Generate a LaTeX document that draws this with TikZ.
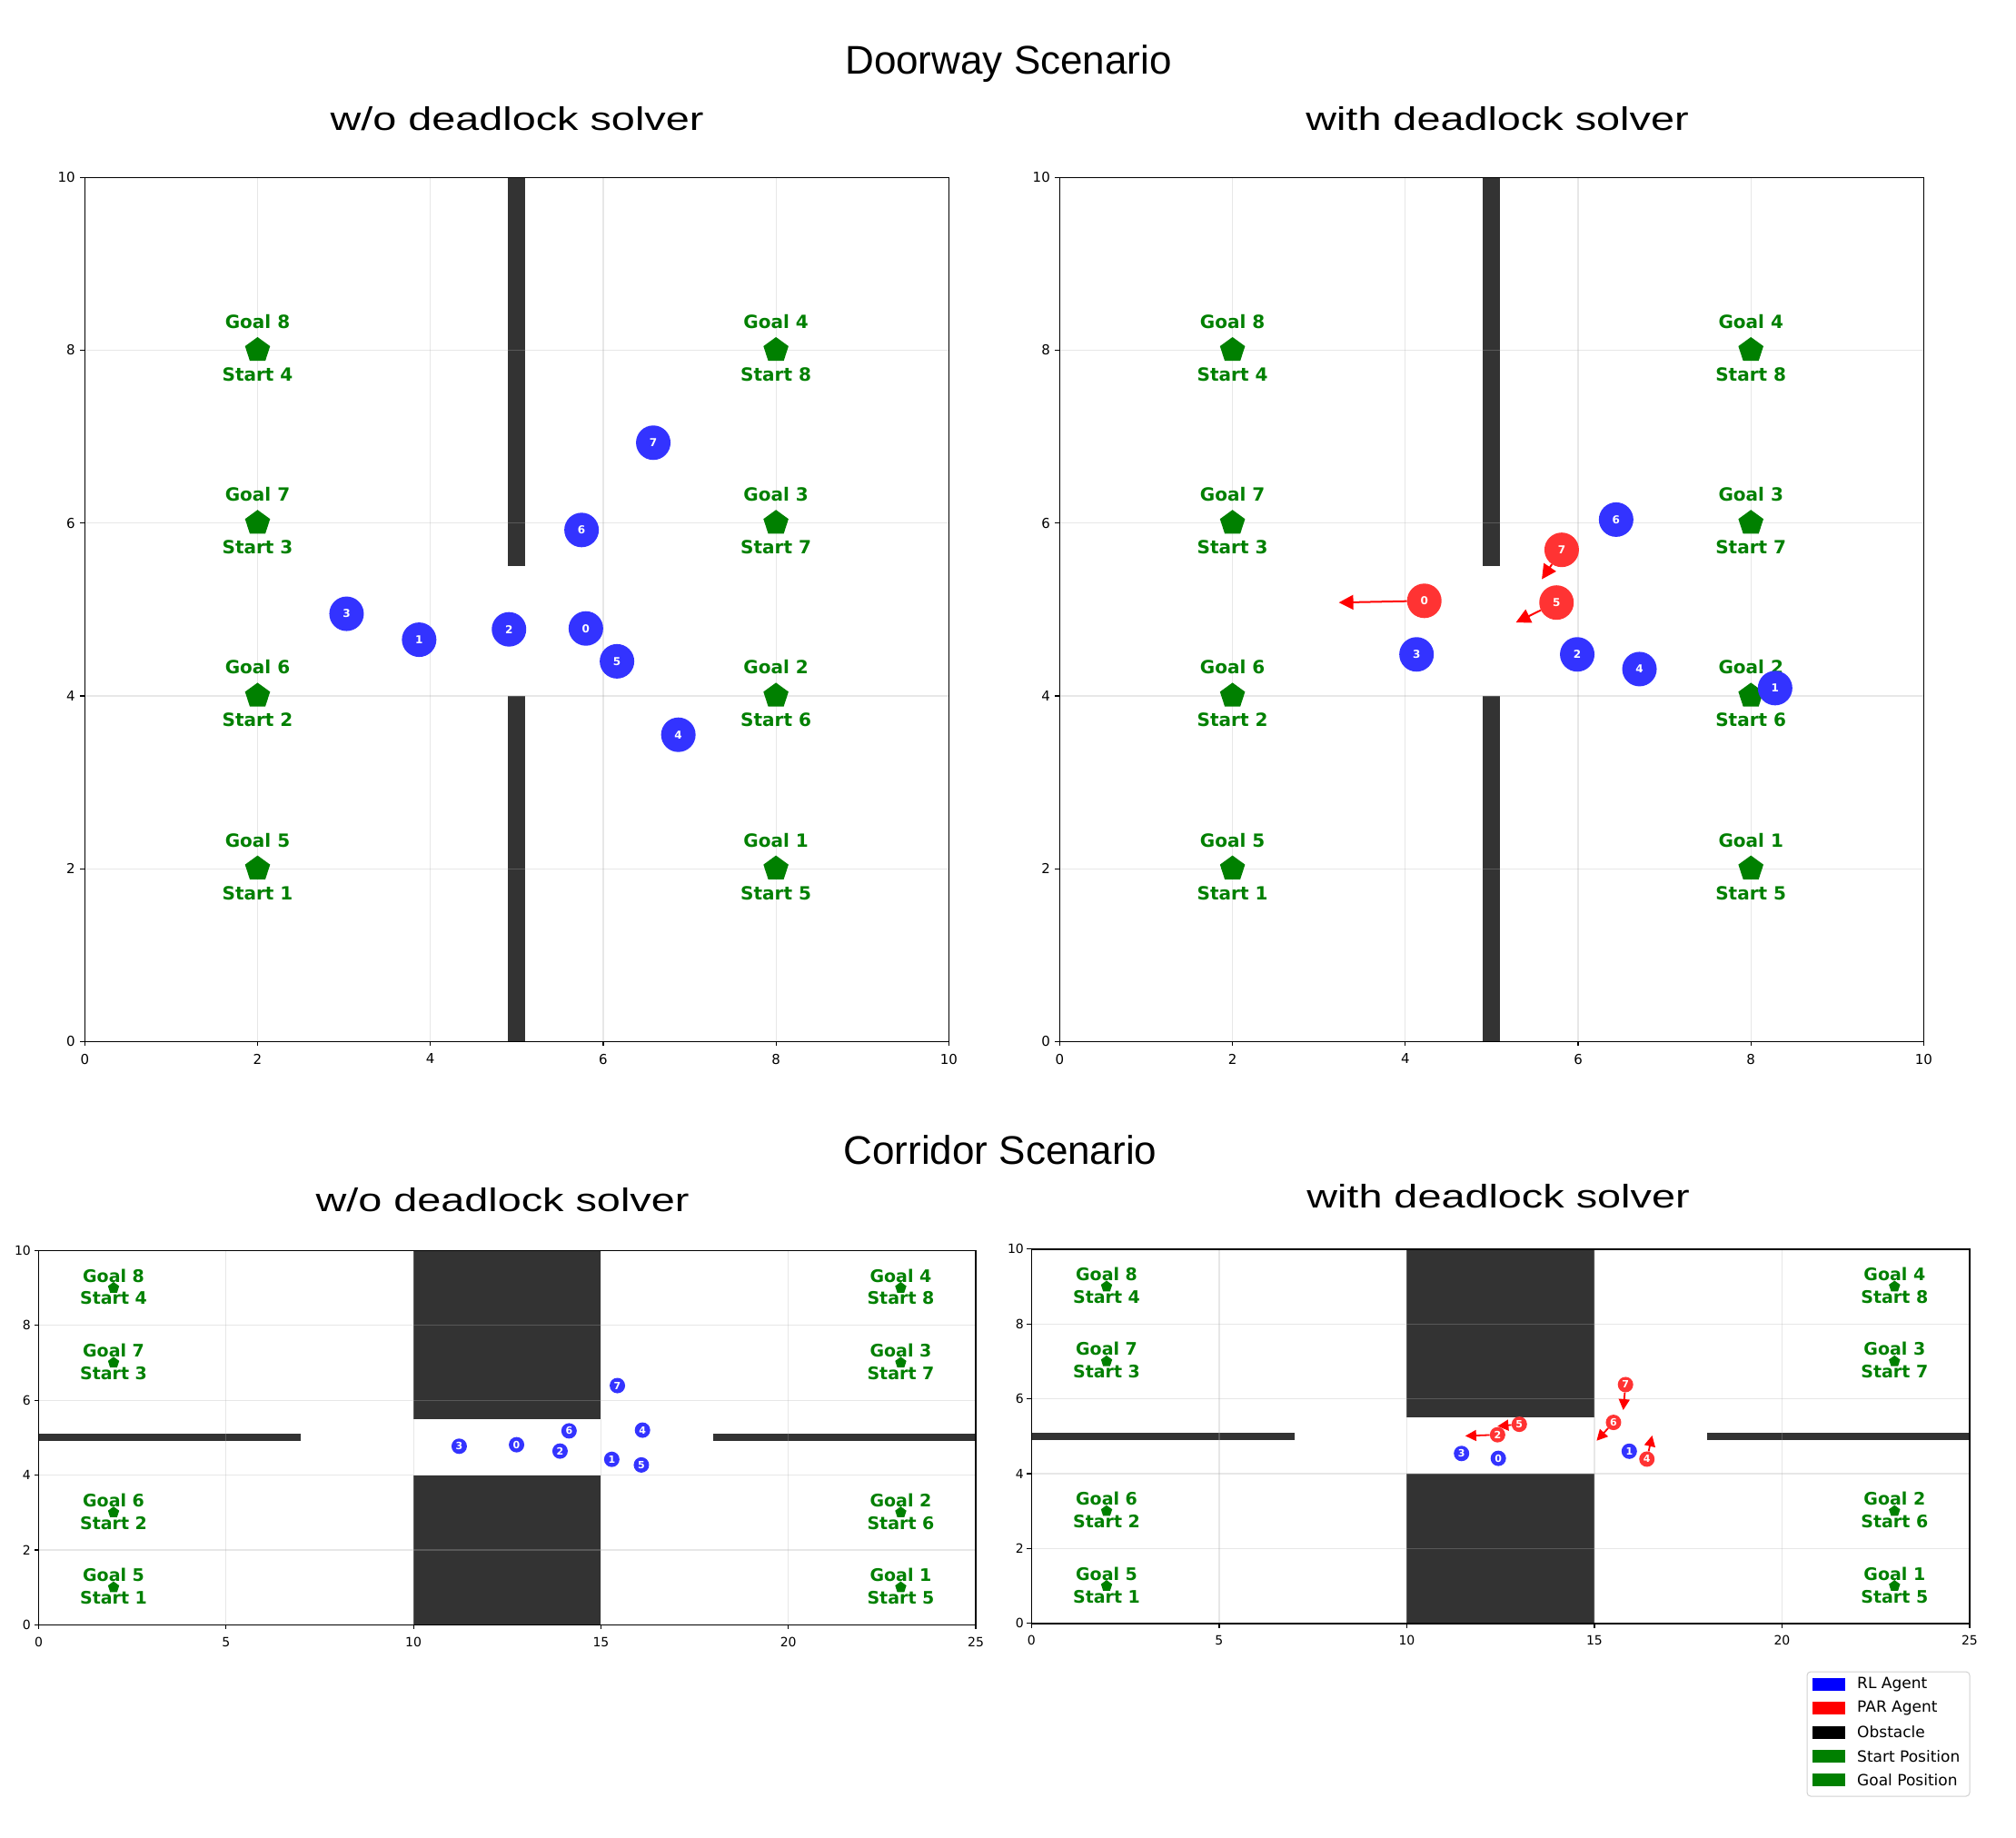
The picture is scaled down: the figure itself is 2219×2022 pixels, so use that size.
\documentclass[tikz,border=0pt]{standalone}
\usepackage{fontspec}
\setmainfont{Liberation Sans}
\newfontfamily\plotfont{DejaVu Sans}
\usetikzlibrary{shapes.geometric,arrows.meta}

\definecolor{goalgreen}{HTML}{008000}
\definecolor{rlblue}{HTML}{3333FF}
\definecolor{parred}{HTML}{FF3333}
\definecolor{wallgray}{HTML}{333333}
\definecolor{gridgray}{HTML}{B0B0B0}

% doorway map, #1 = prefix of the node names
\newcommand{\doorwaymap}[1]{%
  \fill[wall] (4.9,5.5) rectangle (5.1,10);
  \fill[wall] (4.9,0) rectangle (5.1,4);
  \foreach \v in {2,4,6,8} {
    \draw[gridline] (\v,0) -- (\v,10);
    \draw[gridline] (0,\v) -- (10,\v);
  }
  \draw[frame] (0,0) rectangle (10,10);
  \foreach \v in {0,2,...,10} {
    \draw[tickmark] (\v,0) -- ++(0,-5pt) node[ticklabel, anchor=north, yshift=-8pt, name=#1x\v] {\v};
    \draw[tickmark] (0,\v) -- ++(-5pt,0) node[ticklabel, anchor=east, xshift=-5pt, name=#1y\v] {\v};
  }
  \foreach \x/\y/\g/\s in {2/8/8/4, 2/6/7/3, 2/4/6/2, 2/2/5/1, 8/8/4/8, 8/6/3/7, 8/4/2/6, 8/2/1/5} {
    \node[goallabel] (#1g\g) at (\x,\y+0.33) {Goal \g};
    \node[goallabel] (#1s\s) at (\x,\y-0.28) {Start \s};
    \node[goalmark] (#1m\g) at (\x,\y) {};
  }
}

% corridor map, #1 = prefix of the node names
\newcommand{\corridormap}[1]{%
  \fill[wall] (0,4.9) rectangle (7,5.1);
  \fill[wall] (18,4.9) rectangle (25,5.1);
  \fill[wall] (10,5.5) rectangle (15,10);
  \fill[wall] (10,0) rectangle (15,4);
  \foreach \v in {5,10,15,20} \draw[gridline] (\v,0) -- (\v,10);
  \foreach \v in {2,4,6,8} \draw[gridline] (0,\v) -- (25,\v);
  \draw[frame] (0,0) rectangle (25,10);
  \foreach \v in {0,5,...,25}
    \draw[tickmark] (\v,0) -- ++(0,-5pt) node[ticklabel, small tick, anchor=north, yshift=-8pt, name=#1x\v] {\v};
  \foreach \v in {0,2,...,10}
    \draw[tickmark] (0,\v) -- ++(-5pt,0) node[ticklabel, small tick, anchor=east, xshift=-3pt, name=#1y\v] {\v};
  \foreach \x/\y/\g/\s in {2/9/8/4, 2/7/7/3, 2/3/6/2, 2/1/5/1, 23/9/4/8, 23/7/3/7, 23/3/2/6, 23/1/1/5} {
    \node[goallabel, small label] (#1g\g) at (\x,\y+0.33) {Goal \g};
    \node[goallabel, small label] (#1s\s) at (\x,\y-0.28) {Start \s};
    \node[goalmark, minimum size=13pt] (#1m\g) at (\x,\y) {};
  }
}

\begin{document}
\begin{tikzpicture}[x=1pt, y=-1pt]
\tikzset{
  maintitle/.style={anchor=base, inner sep=0pt, font=\fontsize{44}{44}\selectfont},
  subtitle/.style={anchor=base, inner sep=0pt, font=\fontsize{36}{36}\selectfont},
  wall/.style={fill=wallgray},
  gridline/.style={draw=gridgray, opacity=0.3, line width=1.2pt},
  frame/.style={draw=black, line width=1.5pt},
  tickmark/.style={draw=black, line width=1.2pt},
  ticklabel/.style={inner sep=0pt, font=\plotfont\fontsize{15}{15}\selectfont},
  small tick/.style={font=\plotfont\fontsize{14}{14}\selectfont},
  goallabel/.style={inner sep=0pt, text=goalgreen, font=\plotfont\bfseries\fontsize{20}{20}\selectfont},
  small label/.style={font=\plotfont\bfseries\fontsize{19}{19}\selectfont},
  goalmark/.style={regular polygon, regular polygon sides=5, fill=goalgreen, inner sep=0pt, minimum size=29pt},
  agent/.style={circle, inner sep=0pt, minimum size=38pt, text=white, font=\plotfont\bfseries\fontsize{12}{12}\selectfont},
  rl agent/.style={agent, fill=rlblue},
  par agent/.style={agent, fill=parred},
  corridor size/.style={minimum size=17pt, font=\plotfont\bfseries\fontsize{11}{11}\selectfont},
  move/.style={draw=red, line width=2pt, -{Triangle[length=16pt,width=16pt]}},
  small move/.style={draw=red, line width=1.8pt, -{Triangle[length=12pt,width=12pt]}},
  legendbox/.style={draw=black!18, fill=white, line width=1pt, rounded corners=4pt},
  legendpatch/.style={minimum width=36pt, minimum height=14pt, inner sep=0pt},
  legendtext/.style={anchor=west, inner sep=0pt, font=\plotfont\fontsize{17}{17}\selectfont}
}
\useasboundingbox (0,0) rectangle (2219,2022);
\fill[white] (0,0) rectangle (2219,2022);

% titles
\node[maintitle] (doorway) at (1110,81.7) {Doorway Scenario};
\node[subtitle] (dltitle) at (569,143.3) {\scalebox{1.3}[1]{w/o deadlock solver}};
\node[subtitle] (drtitle) at (1648,143) {\scalebox{1.3}[1]{with deadlock solver}};
\node[maintitle] (corridor) at (1101,1281) {Corridor Scenario};
\node[subtitle] (cltitle) at (553,1333) {\scalebox{1.3}[1]{w/o deadlock solver}};
\node[subtitle] (crtitle) at (1649,1329) {\scalebox{1.3}[1]{with deadlock solver}};

% doorway, w/o deadlock solver
\begin{scope}[shift={(93.3,1146.3)}, x=95.1pt, y=95.1pt]
\doorwaymap{dl}
\node[rl agent] (dl0) at (5.80,4.78) {0};
\node[rl agent] (dl1) at (3.87,4.65) {1};
\node[rl agent] (dl2) at (4.91,4.77) {2};
\node[rl agent] (dl3) at (3.03,4.95) {3};
\node[rl agent] (dl4) at (6.87,3.55) {4};
\node[rl agent] (dl5) at (6.16,4.40) {5};
\node[rl agent] (dl6) at (5.75,5.92) {6};
\node[rl agent] (dl7) at (6.58,6.93) {7};
\end{scope}

% doorway, with deadlock solver
\begin{scope}[shift={(1166.4,1146.3)}, x=95.1pt, y=95.1pt]
\doorwaymap{dr}
\node[par agent] (dr0) at (4.22,5.10) {0};
\node[rl agent] (dr1) at (8.28,4.09) {1};
\node[rl agent] (dr2) at (5.99,4.48) {2};
\node[rl agent] (dr3) at (4.13,4.48) {3};
\node[rl agent] (dr4) at (6.71,4.31) {4};
\node[par agent] (dr5) at (5.75,5.08) {5};
\node[rl agent] (dr6) at (6.44,6.04) {6};
\node[par agent] (dr7) at (5.81,5.69) {7};
\coordinate (dr0tip) at (3.23,5.08);
\coordinate (dr5tip) at (5.28,4.85);
\coordinate (dr7tip) at (5.58,5.35);
\draw[move] (dr0) -- (dr0tip);
\draw[move] (dr5) -- (dr5tip);
\draw[move] (dr7) -- (dr7tip);
\end{scope}

% corridor, w/o deadlock solver
\begin{scope}[shift={(42.5,1788.3)}, x=41.26pt, y=41.2pt]
\corridormap{cl}
\node[rl agent, corridor size] (cl0) at (12.75,4.81) {0};
\node[rl agent, corridor size] (cl1) at (15.29,4.42) {1};
\node[rl agent, corridor size] (cl2) at (13.91,4.64) {2};
\node[rl agent, corridor size] (cl3) at (11.22,4.77) {3};
\node[rl agent, corridor size] (cl4) at (16.11,5.20) {4};
\node[rl agent, corridor size] (cl5) at (16.08,4.27) {5};
\node[rl agent, corridor size] (cl6) at (14.15,5.18) {6};
\node[rl agent, corridor size] (cl7) at (15.44,6.39) {7};
\end{scope}

% corridor, with deadlock solver
\begin{scope}[shift={(1135.4,1786.8)}, x=41.3pt, y=41.2pt]
\corridormap{cr}
\node[rl agent, corridor size] (cr0) at (12.44,4.41) {0};
\node[rl agent, corridor size] (cr1) at (15.93,4.60) {1};
\node[par agent, corridor size] (cr2) at (12.42,5.04) {2};
\node[rl agent, corridor size] (cr3) at (11.46,4.54) {3};
\node[par agent, corridor size] (cr4) at (16.40,4.39) {4};
\node[par agent, corridor size] (cr5) at (13.00,5.32) {5};
\node[par agent, corridor size] (cr6) at (15.51,5.37) {6};
\node[par agent, corridor size] (cr7) at (15.83,6.38) {7};
\coordinate (cr2tip) at (11.56,5.01);
\coordinate (cr4tip) at (16.54,5.02);
\coordinate (cr5tip) at (12.42,5.27);
\coordinate (cr6tip) at (15.06,4.88);
\coordinate (cr7tip) at (15.77,5.70);
\draw[small move] (cr2) -- (cr2tip);
\draw[small move] (cr4) -- (cr4tip);
\draw[small move] (cr5) -- (cr5tip);
\draw[small move] (cr6) -- (cr6tip);
\draw[small move] (cr7) -- (cr7tip);
\end{scope}

% legend
\draw[legendbox] (1989,1840) rectangle (2168,1977);
\node[legendpatch, fill=blue] (prl) at (2013,1853.7) {};
\node[legendpatch, fill=red] (ppar) at (2013,1880) {};
\node[legendpatch, fill=black] (pobs) at (2013,1906.6) {};
\node[legendpatch, fill=goalgreen] (pstart) at (2013,1932.9) {};
\node[legendpatch, fill=goalgreen] (pgoal) at (2013,1958.8) {};
\node[legendtext] (lrl) at (2044,1853.7) {RL Agent};
\node[legendtext] (lpar) at (2044,1880) {PAR Agent};
\node[legendtext] (lobs) at (2044,1906.6) {Obstacle};
\node[legendtext] (lstart) at (2044,1932.9) {Start Position};
\node[legendtext] (lgoal) at (2044,1958.8) {Goal Position};
\end{tikzpicture}
\end{document}
